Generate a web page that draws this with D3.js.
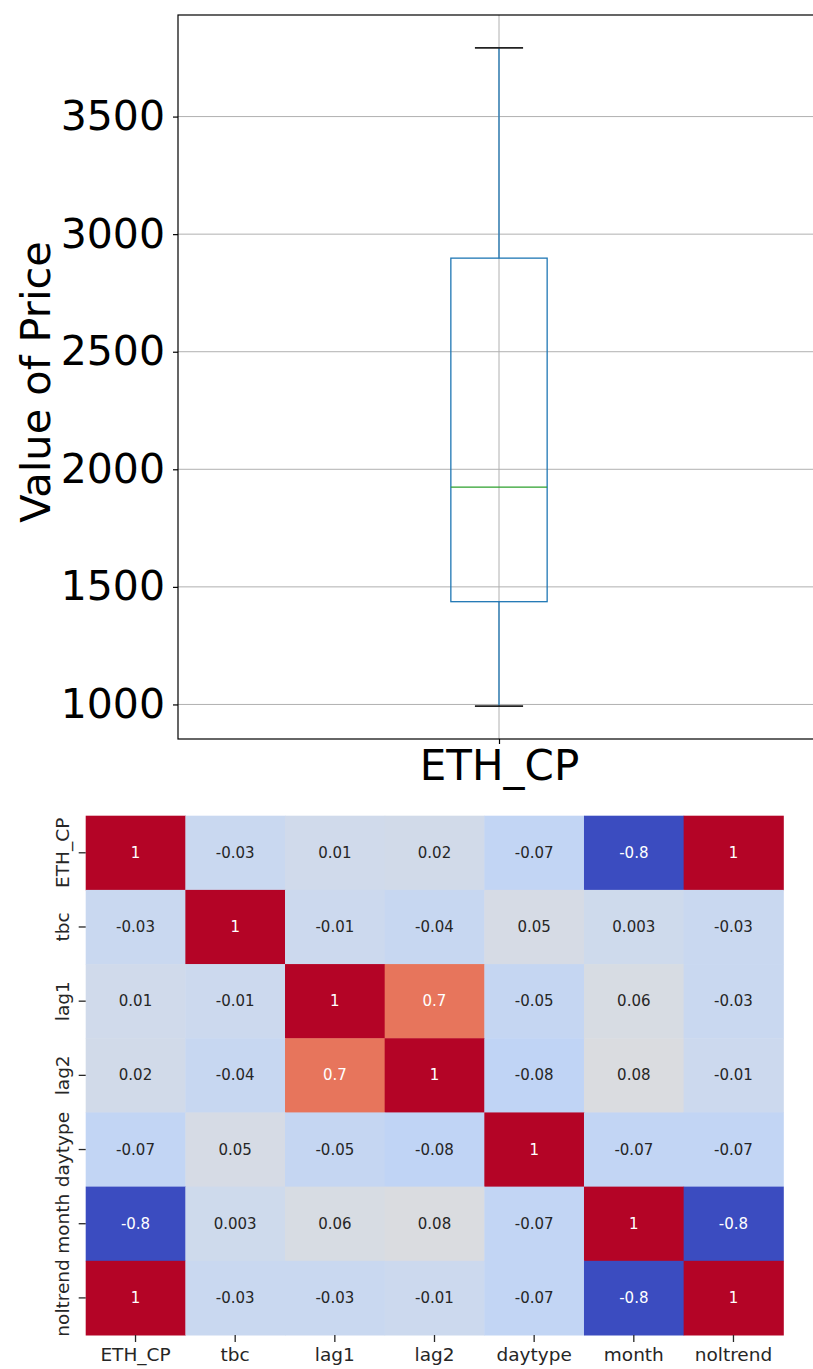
<!DOCTYPE html>
<html>
<head>
<meta charset="utf-8">
<script src="https://cdn.jsdelivr.net/npm/d3@7"></script>
<style>
  html, body { margin: 0; padding: 0; background: #fff; }
  svg { display: block; font-family: "DejaVu Sans", sans-serif; }
</style>
</head>
<body>
<svg id="chart" width="813" height="1369"></svg>
<script>
// ---------- Data ----------
const boxCategories = ["ETH_CP"];
const boxWhiskerLow = [993];
const boxQ1 = [1437];
const boxMedian = [1924];
const boxQ3 = [2898];
const boxWhiskerHigh = [3792];
const boxYTicks = [1000, 1500, 2000, 2500, 3000, 3500];
const boxYLabel = "Value of Price";

const heatLabels = ["ETH_CP", "tbc", "lag1", "lag2", "daytype", "month", "noltrend"];
const rowETH_CP  = [1, -0.03, 0.01, 0.02, -0.07, -0.8, 1];
const rowTbc     = [-0.03, 1, -0.01, -0.04, 0.05, 0.003, -0.03];
const rowLag1    = [0.01, -0.01, 1, 0.7, -0.05, 0.06, -0.03];
const rowLag2    = [0.02, -0.04, 0.7, 1, -0.08, 0.08, -0.01];
const rowDaytype = [-0.07, 0.05, -0.05, -0.08, 1, -0.07, -0.07];
const rowMonth   = [-0.8, 0.003, 0.06, 0.08, -0.07, 1, -0.8];
const rowNoltrend= [1, -0.03, -0.03, -0.01, -0.07, -0.8, 1];
const heatRows = [rowETH_CP, rowTbc, rowLag1, rowLag2, rowDaytype, rowMonth, rowNoltrend];

// ---------- Colormap (matplotlib coolwarm control points) ----------
const coolwarmStops = [
  [59,76,192],[68,90,204],[77,104,215],[87,117,225],[98,130,234],[108,142,241],
  [119,154,247],[130,165,251],[141,176,254],[152,185,255],[163,194,255],[174,201,253],
  [184,208,249],[194,213,244],[204,217,238],[213,219,230],[221,221,221],[229,216,209],
  [236,211,197],[241,204,185],[245,196,173],[247,187,160],[247,177,148],[247,166,135],
  [244,154,123],[241,141,111],[236,127,99],[229,112,88],[222,96,77],[213,80,66],
  [203,62,56],[192,40,47],[180,4,38]
].map(c => d3.rgb(c[0], c[1], c[2]).toString());
const coolwarm = d3.scaleLinear()
  .domain(coolwarmStops.map((_, i) => i / (coolwarmStops.length - 1)))
  .range(coolwarmStops)
  .interpolate(d3.interpolateRgb)
  .clamp(true);

const svg = d3.select("#chart");

// ---------- Box plot ----------
const bp = { left: 178, top: 15, right: 820, bottom: 739 };
const allBoxVals = boxWhiskerLow.concat(boxWhiskerHigh);
const bMin = d3.min(allBoxVals), bMax = d3.max(allBoxVals);
const bPad = (bMax - bMin) * 0.05;
const yBox = d3.scaleLinear().domain([bMin - bPad, bMax + bPad]).range([bp.bottom, bp.top]);
const xBox = d3.scaleLinear().domain([0.5, boxCategories.length + 0.5]).range([bp.left, bp.right]);

const gBox = svg.append("g");
// grid
gBox.selectAll("line.hgrid").data(boxYTicks).enter().append("line")
  .attr("x1", bp.left).attr("x2", bp.right)
  .attr("y1", d => yBox(d)).attr("y2", d => yBox(d))
  .attr("stroke", "#b0b0b0").attr("stroke-width", 1);
gBox.selectAll("line.vgrid").data(boxCategories).enter().append("line")
  .attr("x1", (d, i) => xBox(i + 1)).attr("x2", (d, i) => xBox(i + 1))
  .attr("y1", bp.top).attr("y2", bp.bottom)
  .attr("stroke", "#b0b0b0").attr("stroke-width", 1);

boxCategories.forEach((c, i) => {
  const cx = xBox(i + 1);
  const hw = (xBox(i + 1 + 0.075) - xBox(i + 1 - 0.075)) / 2;
  // whiskers
  gBox.append("line").attr("x1", cx).attr("x2", cx)
    .attr("y1", yBox(boxQ3[i])).attr("y2", yBox(boxWhiskerHigh[i]))
    .attr("stroke", "#1f77b4").attr("stroke-width", 1.3);
  gBox.append("line").attr("x1", cx).attr("x2", cx)
    .attr("y1", yBox(boxQ1[i])).attr("y2", yBox(boxWhiskerLow[i]))
    .attr("stroke", "#1f77b4").attr("stroke-width", 1.3);
  // caps
  [boxWhiskerHigh[i], boxWhiskerLow[i]].forEach(v => {
    gBox.append("line").attr("x1", cx - hw / 2).attr("x2", cx + hw / 2)
      .attr("y1", yBox(v)).attr("y2", yBox(v))
      .attr("stroke", "#222").attr("stroke-width", 1.6);
  });
  // box
  gBox.append("rect")
    .attr("x", cx - hw).attr("width", 2 * hw)
    .attr("y", yBox(boxQ3[i])).attr("height", yBox(boxQ1[i]) - yBox(boxQ3[i]))
    .attr("fill", "none").attr("stroke", "#1f77b4").attr("stroke-width", 1.3);
  // median
  gBox.append("line").attr("x1", cx - hw).attr("x2", cx + hw)
    .attr("y1", yBox(boxMedian[i])).attr("y2", yBox(boxMedian[i]))
    .attr("stroke", "#2ca02c").attr("stroke-width", 1.3);
});

// axes
const yAxisBox = d3.axisLeft(yBox).tickValues(boxYTicks).tickSize(5).tickPadding(8).tickFormat(d3.format("d"));
const gy = gBox.append("g").attr("transform", `translate(${bp.left},0)`).call(yAxisBox);
gy.select(".domain").remove();
gy.selectAll("text").attr("font-size", 41).attr("fill", "#000").attr("font-family", "DejaVu Sans");
gy.selectAll("line").attr("stroke", "#000").attr("stroke-width", 1.2);

const xAxisBox = d3.axisBottom(xBox).tickValues(boxCategories.map((c, i) => i + 1))
  .tickFormat((d) => boxCategories[d - 1]).tickSize(5).tickPadding(6);
const gx = gBox.append("g").attr("transform", `translate(0,${bp.bottom})`).call(xAxisBox);
gx.select(".domain").remove();
gx.selectAll("text").attr("font-size", 42).attr("fill", "#000").attr("font-family", "DejaVu Sans");
gx.selectAll("line").attr("stroke", "#000").attr("stroke-width", 1.2);

// spines
gBox.append("rect").attr("x", bp.left).attr("y", bp.top)
  .attr("width", bp.right - bp.left).attr("height", bp.bottom - bp.top)
  .attr("fill", "none").attr("stroke", "#000").attr("stroke-width", 1.2);

gBox.append("text")
  .attr("transform", `translate(35,${(bp.top + bp.bottom) / 2 + 5}) rotate(-90)`)
  .attr("text-anchor", "middle").attr("dominant-baseline", "central")
  .attr("font-size", 41.5).attr("fill", "#000")
  .text(boxYLabel);

// ---------- Heatmap ----------
const hm = { left: 85.7, top: 815.7, right: 783.3, bottom: 1335 };
const xHeat = d3.scaleBand().domain(heatLabels).range([hm.left, hm.right]);
const yHeat = d3.scaleBand().domain(heatLabels).range([hm.top, hm.bottom]);
const allHeat = heatRows.flat();
const vExt = d3.extent(allHeat);
const colorNorm = d3.scaleLinear().domain(vExt).range([0, 1]);

const cells = [];
heatRows.forEach((row, r) => row.forEach((v, c) => cells.push({ r: heatLabels[r], c: heatLabels[c], v })));

const gHeat = svg.append("g");
gHeat.selectAll("rect").data(cells).enter().append("rect")
  .attr("x", d => xHeat(d.c)).attr("y", d => yHeat(d.r))
  .attr("width", xHeat.bandwidth() + 0.5).attr("height", yHeat.bandwidth() + 0.5)
  .attr("fill", d => coolwarm(colorNorm(d.v)));

function relLum(col) {
  const c = d3.rgb(col);
  const f = x => { x /= 255; return x <= 0.03928 ? x / 12.92 : Math.pow((x + 0.055) / 1.055, 2.4); };
  return 0.2126 * f(c.r) + 0.7152 * f(c.g) + 0.0722 * f(c.b);
}
gHeat.selectAll("text").data(cells).enter().append("text")
  .attr("x", d => xHeat(d.c) + xHeat.bandwidth() / 2)
  .attr("y", d => yHeat(d.r) + yHeat.bandwidth() / 2)
  .attr("text-anchor", "middle").attr("dominant-baseline", "central")
  .attr("font-size", 15)
  .attr("fill", d => relLum(coolwarm(colorNorm(d.v))) > 0.408 ? "#262626" : "#ffffff")
  .text(d => String(d.v));

const xAxisHeat = d3.axisBottom(xHeat).tickSize(7).tickPadding(6);
const ghx = gHeat.append("g").attr("transform", `translate(0,${hm.bottom})`).call(xAxisHeat);
ghx.select(".domain").remove();
ghx.selectAll("text").attr("font-size", 18.5).attr("fill", "#262626").attr("font-family", "DejaVu Sans");
ghx.selectAll("line").attr("stroke", "#262626").attr("stroke-width", 1.3);

const yAxisHeat = d3.axisLeft(yHeat).tickSize(7).tickPadding(5);
const ghy = gHeat.append("g").attr("transform", `translate(${hm.left},0)`).call(yAxisHeat);
ghy.select(".domain").remove();
ghy.selectAll("line").attr("stroke", "#262626").attr("stroke-width", 1.3);
ghy.selectAll("text")
  .attr("font-size", 18.5).attr("fill", "#262626").attr("font-family", "DejaVu Sans")
  .attr("text-anchor", "middle").attr("dy", null).attr("x", null)
  .attr("dominant-baseline", "central")
  .attr("transform", "translate(-23,0) rotate(-90)");
</script>
</body>
</html>
